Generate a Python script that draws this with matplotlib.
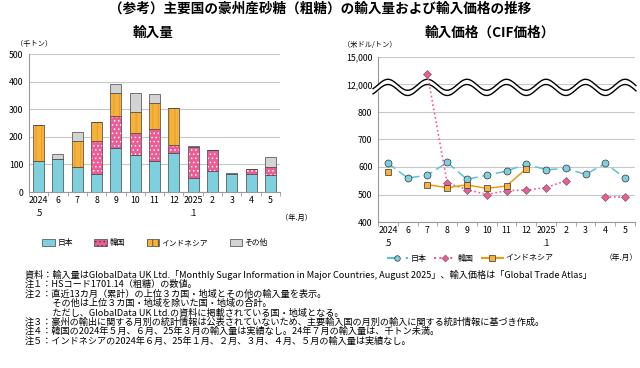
import numpy as np
import matplotlib.pyplot as plt
from matplotlib.patches import Patch
from matplotlib.lines import Line2D

plt.rcParams['font.family'] = ['Noto Sans CJK JP', 'DejaVu Sans']

months = ['2024\n.5', '6', '7', '8', '9', '10', '11', '12', '2025\n.1', '2', '3', '4', '5']

# import volume (thousand tonnes)
vol_japan = [112, 118, 90, 65, 161, 134, 114, 141, 49, 77, 67, 66, 61]
vol_korea = [0, 0, 0.5, 118, 114, 78, 116, 30, 115, 75, 0, 18, 29]
vol_indo = [130, 0, 93, 70, 83, 78, 92, 133, 0, 0, 0, 0, 0]
vol_other = [2, 19, 34, 1, 34, 69, 32, 1, 1, 0, 1, 0, 36]

# CIF price (USD/tonne)
nan = np.nan
price_japan = [614, 560, 570, 617, 555, 570, 585, 611, 590, 595, 573, 613, 560]
price_korea = [nan, nan, 13100, 542, 518, 500, 514, 516, 525, 550, nan, 491, 491]
price_indo = [583, nan, 536, 525, 535, 522, 531, 594, nan, nan, nan, nan, nan]

notes = [
    '資料：輸入量はGlobalData UK Ltd.「Monthly Sugar Information in Major Countries, August 2025」、輸入価格は「Global Trade Atlas」',
    '注１：HSコード1701.14（粗糖）の数値。',
    '注２：直近13カ月（累計）の上位３カ国・地域とその他の輸入量を表示。',
    '　　　その他は上位３カ国・地域を除いた国・地域の合計。',
    '　　　ただし、GlobalData UK Ltd.の資料に掲載されている国・地域となる。',
    '注３：豪州の輸出に関する月別の統計情報は公表されていないため、主要輸入国の月別の輸入に関する統計情報に基づき作成。',
    '注４：韓国の2024年５月、６月、25年３月の輸入量は実績なし。24年７月の輸入量は、千トン未満。',
    '注５：インドネシアの2024年６月、25年１月、２月、３月、４月、５月の輸入量は実績なし。',
]

c_jp = '#7fd0de'
c_kr = '#ee5b95'
c_id = '#f7b23b'
c_ot = '#d3d3d3'
grid_c = '#c8c8c8'
tick_fs = 6.3

W, H = 640, 368
fig = plt.figure(figsize=(W / 100, H / 100), dpi=100)


def px_axes(x0, y0, x1, y1):
    return fig.add_axes([x0 / W, 1 - y1 / H, (x1 - x0) / W, (y1 - y0) / H])


fig.text(320, H - 9, '（参考）主要国の豪州産砂糖（粗糖）の輸入量および輸入価格の推移', transform=None,
         ha='center', va='center', fontsize=9.8, fontweight='bold')
fig.text(153, H - 33, '輸入量', transform=None, ha='center', va='center', fontsize=9.8, fontweight='bold')
fig.text(425, H - 33, '輸入価格（CIF価格）', transform=None, ha='left', va='center',
         fontsize=9.8, fontweight='bold')

# ---- left: volume ----
ax = px_axes(29, 54, 280, 192)
x = np.arange(len(months))
bw = 0.57
plt.rcParams['hatch.linewidth'] = 0.6
b = np.zeros(len(x))
for vals, col, hatch, hc in [(vol_japan, c_jp, None, None), (vol_korea, c_kr, '....', 'white'),
                             (vol_indo, c_id, '|||', '#e89a20'), (vol_other, c_ot, None, None)]:
    v = np.array(vals, dtype=float)
    bars = ax.bar(x, v, bw, bottom=b, color=col, edgecolor='#444444', linewidth=0.5, zorder=3)
    if hatch:
        for r in bars:
            r.set_hatch(hatch)
            r._hatch_color = plt.matplotlib.colors.to_rgba(hc)
    b += v
ax.set_ylim(0, 500)
ax.set_xlim(-0.5, 12.5)
ax.set_yticks(range(0, 501, 100))
ax.yaxis.grid(True, color=grid_c, lw=0.8)
ax.set_axisbelow(True)
for s in ['top', 'right']:
    ax.spines[s].set_visible(False)
for s in ['left', 'bottom']:
    ax.spines[s].set_color('#999999')
ax.set_xticks(x)
ax.set_xticklabels(months, fontsize=tick_fs, va='top', linespacing=1.5)
ax.tick_params(axis='x', length=0, pad=3)
ax.set_xticks(np.arange(-0.5, 13, 1), minor=True)
ax.tick_params(axis='x', which='minor', length=3, color='#999999')
ax.tick_params(axis='y', labelsize=tick_fs, length=0, pad=4)
fig.text(16, H - 44, '（千トン）', transform=None, ha='left', va='center', fontsize=5.2)
fig.text(312, H - 218, '（年.月）', transform=None, ha='right', va='center', fontsize=5.2)

leg_h = [Patch(facecolor=c_jp, edgecolor='#444444', lw=0.5),
         Patch(facecolor=c_kr, edgecolor='#444444', lw=0.5, hatch='....'),
         Patch(facecolor=c_id, edgecolor='#444444', lw=0.5, hatch='|||'),
         Patch(facecolor=c_ot, edgecolor='#444444', lw=0.5)]
fig.legend(leg_h, ['日本', '韓国', 'インドネシア', 'その他'], loc='center', bbox_to_anchor=(155 / W, 1 - 243 / H),
           ncol=4, frameon=False, fontsize=5.6, handlelength=1.6, handleheight=1.0, columnspacing=2.8,
           handletextpad=0.3)

# ---- right: price (broken axis) ----
def tr(v):
    v = np.asarray(v, dtype=float)
    return np.where(v > 1000, 900 + (v - 12000) / 30.0, v)


ax2 = px_axes(378, 57, 635, 222)
ax2.set_xlim(-0.5, 12.5)
ax2.set_ylim(400, 1000)
ax2.set_yticks([400, 500, 600, 700, 800, 900, 1000])
ax2.set_yticklabels(['400', '500', '600', '700', '800', '12,000', '15,000'])
ax2.yaxis.grid(True, color=grid_c, lw=0.8)
ax2.set_axisbelow(True)
for s in ['top', 'right']:
    ax2.spines[s].set_visible(False)
for s in ['left', 'bottom']:
    ax2.spines[s].set_color('#999999')
ax2.set_xticks(x)
ax2.set_xticklabels(months, fontsize=tick_fs, va='top', linespacing=1.5)
ax2.tick_params(axis='x', length=0, pad=3)
ax2.set_xticks(np.arange(-0.5, 13, 1), minor=True)
ax2.tick_params(axis='x', which='minor', length=3, color='#999999')
ax2.tick_params(axis='y', labelsize=tick_fs, length=0, pad=4)

ax2.plot(x, tr(price_japan), ls=(0, (6, 3)), color='#5cc3d4', lw=1.1, marker='o', ms=5,
         mfc=c_jp, mec='#333333', mew=0.5, zorder=4)
ax2.plot(x, tr(price_korea), ls=(0, (1, 1.6)), color=c_kr, lw=1.2, marker='D', ms=4.5,
         mfc=c_kr, mec='#555555', mew=0.4, zorder=4)
ax2.plot(x, tr(price_indo), ls='-', color='#f29a10', lw=1.1, marker='s', ms=5,
         mfc=c_id, mec='#333333', mew=0.5, zorder=4)

# wave for axis break
wx = np.linspace(-0.75, 12.55, 400)
up = 899 + 20 * np.cos(np.pi * wx)
lo = 880 + 20 * np.cos(np.pi * wx)
ax2.fill_between(wx, lo, up, color='white', zorder=3, clip_on=False)
ax2.plot(wx, up, color='black', lw=1.0, zorder=3, clip_on=False)
ax2.plot(wx, lo, color='black', lw=1.0, zorder=3, clip_on=False)

fig.text(370, H - 45, '（米ドル/トン）', transform=None, ha='center', va='center', fontsize=5.2)
fig.text(638, H - 258, '（年.月）', transform=None, ha='right', va='center', fontsize=5.6)

leg2 = [Line2D([], [], ls=(0, (6, 3)), color='#5cc3d4', marker='o', ms=4, mfc=c_jp, mec='#333333', mew=0.5),
        Line2D([], [], ls=(0, (1, 1.6)), color=c_kr, marker='D', ms=3.5, mfc=c_kr, mec='#555555', mew=0.4),
        Line2D([], [], ls='-', color='#f29a10', marker='s', ms=4, mfc=c_id, mec='#333333', mew=0.5)]
fig.legend(leg2, ['日本', '韓国', 'インドネシア'], loc='center', bbox_to_anchor=(470 / W, 1 - 258 / H),
           ncol=3, frameon=False, fontsize=5.8, handlelength=2.6, columnspacing=1.0, handletextpad=0.3)

# ---- notes ----
y0 = 275
for i, t in enumerate(notes):
    fig.text(25, H - (y0 + i * 9.4), t, transform=None, ha='left', va='center', fontsize=6.6)

fig.savefig('out.png', dpi=100)
